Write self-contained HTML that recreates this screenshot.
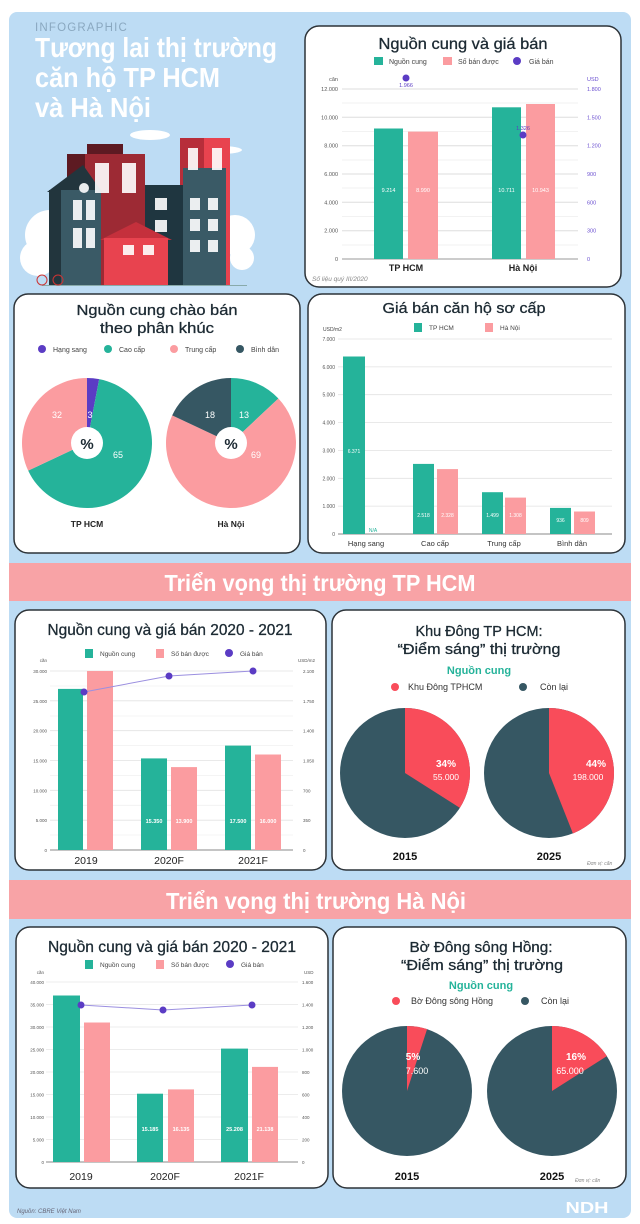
<!DOCTYPE html>
<html><head><meta charset="utf-8"><style>
html,body{margin:0;padding:0;background:#fff;}
svg{display:block;font-family:"Liberation Sans",sans-serif;}
</style></head><body>
<svg width="640" height="1224" viewBox="0 0 640 1224" xmlns="http://www.w3.org/2000/svg">
<rect x="9" y="12" width="622" height="1206" rx="8" fill="#bddcf4"/>

<!-- Header -->
<text x="35" y="31" font-size="11.5" fill="#8aa8c0" letter-spacing="1.2">INFOGRAPHIC</text>
<g fill="#fff" font-size="28" font-weight="bold">
<text x="35" y="57" textLength="242" lengthAdjust="spacingAndGlyphs">Tương lai thị trường</text>
<text x="35" y="87" textLength="185" lengthAdjust="spacingAndGlyphs">căn hộ TP HCM</text>
<text x="35" y="117" textLength="116" lengthAdjust="spacingAndGlyphs">và Hà Nội</text>
</g>
<!-- illustration -->
<g>
<ellipse cx="150" cy="135" rx="20" ry="5" fill="#fff"/>
<ellipse cx="220" cy="150" rx="22" ry="4" fill="#fff"/>
<circle cx="50" cy="235" r="25" fill="#fff"/>
<circle cx="38" cy="258" r="18" fill="#fff"/>
<circle cx="235" cy="235" r="20" fill="#fff"/>
<circle cx="242" cy="258" r="12" fill="#fff"/>
<rect x="87" y="144" width="36" height="12" fill="#5d1a22"/>
<rect x="67" y="154" width="78" height="131" fill="#9d2a34"/>
<rect x="67" y="154" width="18" height="131" fill="#5d1a22"/>
<rect x="180" y="138" width="50" height="147" fill="#e8434f"/>
<rect x="180" y="138" width="24" height="147" fill="#b72e3a"/>
<rect x="145" y="185" width="45" height="100" fill="#1f3640"/>
<rect x="183" y="168" width="43" height="117" fill="#3a5a66"/>
<polygon points="47,192 83,165 102,192" fill="#22353d"/>
<rect x="49" y="190" width="52" height="95" fill="#3a5a66"/>
<rect x="49" y="190" width="12" height="95" fill="#22353d"/>
<polygon points="100,240 136,222 172,240" fill="#c5303c"/>
<rect x="104" y="238" width="64" height="47" fill="#e8434f"/>
<g fill="#fff" opacity="0.9">
<rect x="95" y="163" width="14" height="30"/><rect x="122" y="163" width="14" height="30"/>
<rect x="188" y="148" width="10" height="22"/><rect x="212" y="148" width="10" height="22"/>
<rect x="190" y="198" width="10" height="12"/><rect x="208" y="198" width="10" height="12"/>
<rect x="190" y="219" width="10" height="12"/><rect x="208" y="219" width="10" height="12"/>
<rect x="190" y="240" width="10" height="12"/><rect x="208" y="240" width="10" height="12"/>
<rect x="73" y="200" width="9" height="20"/><rect x="86" y="200" width="9" height="20"/>
<rect x="73" y="228" width="9" height="20"/><rect x="86" y="228" width="9" height="20"/>
<rect x="155" y="198" width="12" height="12"/><rect x="155" y="220" width="12" height="12"/>
<rect x="123" y="245" width="11" height="10"/><rect x="143" y="245" width="11" height="10"/>
<circle cx="84" cy="188" r="5"/>
</g>
<rect x="42" y="285" width="205" height="1" fill="#8aa"/>
<circle cx="42" cy="280" r="5" fill="none" stroke="#c33" stroke-width="1"/>
<circle cx="58" cy="280" r="5" fill="none" stroke="#c33" stroke-width="1"/>
</g>

<!-- Card 1 top right -->
<rect x="305" y="26" width="316" height="261" rx="14" fill="#fff" stroke="#2d3338" stroke-width="1.5"/>
<text x="463" y="49" font-size="16" text-anchor="middle" fill="#1c2a33" stroke="#1c2a33" stroke-width="0.3" textLength="169" lengthAdjust="spacingAndGlyphs">Nguồn cung và giá bán</text>
<g font-size="7" fill="#444">
<rect x="374" y="57" width="9" height="8" fill="#25b39a"/><text x="389" y="64">Nguồn cung</text>
<rect x="443" y="57" width="9" height="8" fill="#fb9ca0"/><text x="458" y="64">Số bán được</text>
<circle cx="517" cy="61" r="4" fill="#5b3cc4"/><text x="529" y="64">Giá bán</text>
</g>
<g stroke="#eee" stroke-width="0.8">
<line x1="342" y1="103" x2="578" y2="103"/><line x1="342" y1="131.5" x2="578" y2="131.5"/><line x1="342" y1="160" x2="578" y2="160"/><line x1="342" y1="188" x2="578" y2="188"/><line x1="342" y1="216.5" x2="578" y2="216.5"/><line x1="342" y1="245" x2="578" y2="245"/>
</g>
<g stroke="#ddd" stroke-width="1">
<line x1="342" y1="89" x2="578" y2="89"/><line x1="342" y1="117.3" x2="578" y2="117.3"/><line x1="342" y1="145.7" x2="578" y2="145.7"/><line x1="342" y1="174" x2="578" y2="174"/><line x1="342" y1="202.3" x2="578" y2="202.3"/><line x1="342" y1="230.7" x2="578" y2="230.7"/>
</g>
<line x1="342" y1="259" x2="578" y2="259" stroke="#999" stroke-width="1"/>
<g font-size="5.5" fill="#555" text-anchor="end">
<text x="338" y="81">căn</text>
<text x="338" y="91">12.000</text><text x="338" y="119.3">10.000</text><text x="338" y="147.7">8.000</text><text x="338" y="176">6.000</text><text x="338" y="204.3">4.000</text><text x="338" y="232.7">2.000</text><text x="338" y="261">0</text>
</g>
<g font-size="5.5" fill="#6a4fd0">
<text x="587" y="81">USD</text>
<text x="587" y="91">1.800</text><text x="587" y="119.3">1.500</text><text x="587" y="147.7">1.200</text><text x="587" y="176">900</text><text x="587" y="204.3">600</text><text x="587" y="232.7">300</text><text x="587" y="261">0</text>
</g>
<rect x="374" y="128.5" width="29" height="130.5" fill="#25b39a"/>
<rect x="408" y="131.6" width="30" height="127.4" fill="#fb9ca0"/>
<rect x="492" y="107.3" width="29" height="151.7" fill="#25b39a"/>
<rect x="526" y="104" width="29" height="155" fill="#fb9ca0"/>
<g font-size="5.5" fill="#fff" text-anchor="middle">
<text x="388.5" y="192">9.214</text><text x="423" y="192">8.990</text><text x="506.5" y="192">10.711</text><text x="540.5" y="192">10.943</text>
</g>
<circle cx="406" cy="78" r="3.5" fill="#5b3cc4"/><text x="406" y="87" font-size="5.5" fill="#5b3cc4" text-anchor="middle">1.966</text>
<circle cx="523" cy="135" r="3.5" fill="#5b3cc4"/><text x="523" y="130" font-size="5.5" fill="#5b3cc4" text-anchor="middle">1.326</text>
<g font-size="9" font-weight="bold" fill="#222" text-anchor="middle">
<text x="406" y="271">TP HCM</text><text x="523" y="271">Hà Nội</text>
</g>
<text x="312" y="281" font-size="6.5" font-style="italic" fill="#888">Số liệu quý III/2020</text>

<!-- Card 2 mid left -->
<rect x="14" y="294" width="286" height="259" rx="14" fill="#fff" stroke="#2d3338" stroke-width="1.5"/>
<g font-size="15" text-anchor="middle" fill="#1c2a33" stroke="#1c2a33" stroke-width="0.3">
<text x="157" y="315" textLength="161" lengthAdjust="spacingAndGlyphs">Nguồn cung chào bán</text>
<text x="157" y="333" textLength="114" lengthAdjust="spacingAndGlyphs">theo phân khúc</text>
</g>
<g font-size="7" fill="#444">
<circle cx="42" cy="349" r="4" fill="#5b3cc4"/><text x="53" y="352">Hạng sang</text>
<circle cx="108" cy="349" r="4" fill="#25b39a"/><text x="119" y="352">Cao cấp</text>
<circle cx="174" cy="349" r="4" fill="#fb9ca0"/><text x="185" y="352">Trung cấp</text>
<circle cx="240" cy="349" r="4" fill="#365763"/><text x="251" y="352">Bình dân</text>
</g>
<path d="M87,443 L87,378 A65,65 0 0 1 99.18,379.15 Z" fill="#5b3cc4"/>
<path d="M87,443 L99.18,379.15 A65,65 0 1 1 28.19,470.68 Z" fill="#25b39a"/>
<path d="M87,443 L28.19,470.68 A65,65 0 0 1 87,378 Z" fill="#fb9ca0"/>
<circle cx="87" cy="443" r="16" fill="#fff"/>
<path d="M231,443 L231,378 A65,65 0 0 1 278.39,398.51 Z" fill="#25b39a"/>
<path d="M231,443 L278.39,398.51 A65,65 0 1 1 172.19,415.32 Z" fill="#fb9ca0"/>
<path d="M231,443 L172.19,415.32 A65,65 0 0 1 231,378 Z" fill="#365763"/>
<circle cx="231" cy="443" r="16" fill="#fff"/>
<g font-size="15" font-weight="bold" fill="#1c2a33" text-anchor="middle">
<text x="87" y="449">%</text><text x="231" y="449">%</text>
</g>
<g font-size="9" fill="#fff" text-anchor="middle">
<text x="90" y="418">3</text><text x="118" y="458">65</text><text x="57" y="418">32</text>
<text x="244" y="418">13</text><text x="256" y="458">69</text><text x="210" y="418">18</text>
</g>
<g font-size="8.5" font-weight="bold" fill="#222" text-anchor="middle">
<text x="87" y="527">TP HCM</text><text x="231" y="527">Hà Nội</text>
</g>

<!-- Card 3 mid right -->
<rect x="308" y="294" width="317" height="259" rx="14" fill="#fff" stroke="#2d3338" stroke-width="1.5"/>
<text x="464" y="313" font-size="15" text-anchor="middle" fill="#1c2a33" stroke="#1c2a33" stroke-width="0.3" textLength="163" lengthAdjust="spacingAndGlyphs">Giá bán căn hộ sơ cấp</text>
<g font-size="6.5" fill="#444">
<rect x="414" y="323" width="8" height="9" fill="#25b39a"/><text x="429" y="330">TP HCM</text>
<rect x="485" y="323" width="8" height="9" fill="#fb9ca0"/><text x="500" y="330">Hà Nội</text>
<text x="323" y="331" font-size="5">USD/m2</text>
</g>
<g stroke="#e2e2e2" stroke-width="0.8">
<line x1="338" y1="339" x2="612" y2="339"/><line x1="338" y1="366.9" x2="612" y2="366.9"/><line x1="338" y1="394.7" x2="612" y2="394.7"/><line x1="338" y1="422.6" x2="612" y2="422.6"/><line x1="338" y1="450.4" x2="612" y2="450.4"/><line x1="338" y1="478.3" x2="612" y2="478.3"/><line x1="338" y1="506.1" x2="612" y2="506.1"/>
</g>
<line x1="338" y1="534" x2="612" y2="534" stroke="#888" stroke-width="1"/>
<g font-size="5" fill="#555" text-anchor="end">
<text x="335" y="341">7.000</text><text x="335" y="368.9">6.000</text><text x="335" y="396.7">5.000</text><text x="335" y="424.6">4.000</text><text x="335" y="452.4">3.000</text><text x="335" y="480.3">2.000</text><text x="335" y="508.1">1.000</text><text x="335" y="536">0</text>
</g>
<rect x="343" y="356.5" width="22" height="177.5" fill="#25b39a"/>
<rect x="413" y="463.9" width="21" height="70.1" fill="#25b39a"/>
<rect x="437" y="469.1" width="21" height="64.9" fill="#fb9ca0"/>
<rect x="482" y="492.2" width="21" height="41.8" fill="#25b39a"/>
<rect x="505" y="497.6" width="21" height="36.4" fill="#fb9ca0"/>
<rect x="550" y="507.9" width="21" height="26.1" fill="#25b39a"/>
<rect x="574" y="511.5" width="21" height="22.5" fill="#fb9ca0"/>
<g font-size="5" fill="#fff" text-anchor="middle">
<text x="354" y="453">6.371</text>
<text x="423.5" y="517">2.518</text><text x="447.5" y="517">2.328</text>
<text x="492.5" y="517">1.499</text><text x="515.5" y="517">1.308</text>
<text x="560.5" y="522">936</text><text x="584.5" y="522">809</text>
</g>
<text x="373" y="532" font-size="5" fill="#25b39a" text-anchor="middle">N/A</text>
<g font-size="7.5" fill="#333" text-anchor="middle">
<text x="366" y="546">Hạng sang</text><text x="435" y="546">Cao cấp</text><text x="504" y="546">Trung cấp</text><text x="572" y="546">Bình dân</text>
</g>

<!-- Band 1 -->
<rect x="9" y="563" width="622" height="38" fill="#f8a3a6"/>
<text x="320" y="591" font-size="23" font-weight="bold" fill="#fff" text-anchor="middle" textLength="311" lengthAdjust="spacingAndGlyphs">Triển vọng thị trường TP HCM</text>

<!-- Card 4 HCM bars -->
<rect x="15" y="610" width="311" height="260" rx="14" fill="#fff" stroke="#2d3338" stroke-width="1.5"/>
<text x="170" y="635" font-size="16" text-anchor="middle" fill="#1c2a33" stroke="#1c2a33" stroke-width="0.3" textLength="245" lengthAdjust="spacingAndGlyphs">Nguồn cung và giá bán 2020 - 2021</text>
<g font-size="6.5" fill="#444">
<rect x="85" y="649" width="8" height="9" fill="#25b39a"/><text x="100" y="656">Nguồn cung</text>
<rect x="156" y="649" width="8" height="9" fill="#fb9ca0"/><text x="171" y="656">Số bán được</text>
<circle cx="229" cy="653" r="4" fill="#5b3cc4"/><text x="240" y="656">Giá bán</text>
</g>
<g stroke="#e2e2e2" stroke-width="0.8">
<line x1="50" y1="671" x2="293" y2="671"/><line x1="50" y1="700.8" x2="293" y2="700.8"/><line x1="50" y1="730.7" x2="293" y2="730.7"/><line x1="50" y1="760.5" x2="293" y2="760.5"/><line x1="50" y1="790.3" x2="293" y2="790.3"/><line x1="50" y1="820.2" x2="293" y2="820.2"/>
<line x1="50" y1="686" x2="293" y2="686" stroke="#f0f0f0"/><line x1="50" y1="716" x2="293" y2="716" stroke="#f0f0f0"/><line x1="50" y1="745.6" x2="293" y2="745.6" stroke="#f0f0f0"/><line x1="50" y1="775.4" x2="293" y2="775.4" stroke="#f0f0f0"/><line x1="50" y1="805.3" x2="293" y2="805.3" stroke="#f0f0f0"/><line x1="50" y1="835" x2="293" y2="835" stroke="#f0f0f0"/>
</g>
<line x1="50" y1="850" x2="293" y2="850" stroke="#888" stroke-width="1"/>
<g font-size="4.5" fill="#555" text-anchor="end">
<text x="47" y="662">căn</text>
<text x="47" y="673">30.000</text><text x="47" y="702.8">25.000</text><text x="47" y="732.7">20.000</text><text x="47" y="762.5">15.000</text><text x="47" y="792.3">10.000</text><text x="47" y="822.2">5.000</text><text x="47" y="852">0</text>
</g>
<g font-size="4.5" fill="#555">
<text x="298" y="662">USD/m2</text>
<text x="303" y="673">2.100</text><text x="303" y="702.8">1.750</text><text x="303" y="732.7">1.400</text><text x="303" y="762.5">1.050</text><text x="303" y="792.3">700</text><text x="303" y="822.2">350</text><text x="303" y="852">0</text>
</g>
<rect x="58" y="688.9" width="25" height="161.1" fill="#25b39a"/>
<rect x="87" y="671" width="26" height="179" fill="#fb9ca0"/>
<rect x="141" y="758.4" width="26" height="91.6" fill="#25b39a"/>
<rect x="171" y="767.1" width="26" height="82.9" fill="#fb9ca0"/>
<rect x="225" y="745.6" width="26" height="104.4" fill="#25b39a"/>
<rect x="255" y="754.5" width="26" height="95.5" fill="#fb9ca0"/>
<g font-size="5.5" font-weight="bold" fill="#fff" text-anchor="middle">
<text x="154" y="823">15.350</text><text x="184" y="823">13.900</text><text x="238" y="823">17.500</text><text x="268" y="823">16.000</text>
</g>
<polyline points="84,692 169,676 253,671" fill="none" stroke="#9b8fe0" stroke-width="1"/>
<circle cx="84" cy="692" r="3.5" fill="#5b3cc4"/><circle cx="169" cy="676" r="3.5" fill="#5b3cc4"/><circle cx="253" cy="671" r="3.5" fill="#5b3cc4"/>
<g font-size="10.5" fill="#222" text-anchor="middle">
<text x="86" y="864">2019</text><text x="169" y="864">2020F</text><text x="253" y="864">2021F</text>
</g>

<!-- Card 5 Khu Dong -->
<rect x="332" y="610" width="293" height="260" rx="14" fill="#fff" stroke="#2d3338" stroke-width="1.5"/>
<g font-size="15" text-anchor="middle" fill="#1c2a33" stroke="#1c2a33" stroke-width="0.3">
<text x="479" y="636" textLength="127" lengthAdjust="spacingAndGlyphs">Khu Đông TP HCM:</text>
<text x="479" y="654" textLength="163" lengthAdjust="spacingAndGlyphs">“Điểm sáng” thị trường</text>
</g>
<text x="479" y="674" font-size="11" font-weight="bold" fill="#25b39a" text-anchor="middle">Nguồn cung</text>
<g font-size="9" fill="#333">
<circle cx="395" cy="687" r="4" fill="#f94c5a"/><text x="408" y="690">Khu Đông TPHCM</text>
<circle cx="523" cy="687" r="4" fill="#365763"/><text x="540" y="690">Còn lại</text>
</g>
<circle cx="405" cy="773" r="65" fill="#365763"/>
<path d="M405,773 L405,708 A65,65 0 0 1 459.88,807.83 Z" fill="#f94c5a"/>
<circle cx="549" cy="773" r="65" fill="#365763"/>
<path d="M549,773 L549,708 A65,65 0 0 1 572.93,833.44 Z" fill="#f94c5a"/>
<g fill="#fff" text-anchor="middle">
<text x="446" y="767" font-size="10" font-weight="bold">34%</text><text x="446" y="780" font-size="8.5">55.000</text>
<text x="596" y="767" font-size="10" font-weight="bold">44%</text><text x="588" y="780" font-size="8.5">198.000</text>
</g>
<g font-size="11" font-weight="bold" fill="#111" text-anchor="middle">
<text x="405" y="860">2015</text><text x="549" y="860">2025</text>
</g>
<text x="587" y="865" font-size="5" font-style="italic" fill="#888">Đơn vị: căn</text>

<!-- Band 2 -->
<rect x="9" y="880" width="622" height="39" fill="#f8a3a6"/>
<text x="316" y="909" font-size="23" font-weight="bold" fill="#fff" text-anchor="middle" textLength="300" lengthAdjust="spacingAndGlyphs">Triển vọng thị trường Hà Nội</text>

<!-- Card 6 HN bars -->
<rect x="16" y="927" width="312" height="261" rx="14" fill="#fff" stroke="#2d3338" stroke-width="1.5"/>
<text x="172" y="952" font-size="16" text-anchor="middle" fill="#1c2a33" stroke="#1c2a33" stroke-width="0.3" textLength="248" lengthAdjust="spacingAndGlyphs">Nguồn cung và giá bán 2020 - 2021</text>
<g font-size="6.5" fill="#444">
<rect x="85" y="960" width="8" height="9" fill="#25b39a"/><text x="100" y="967">Nguồn cung</text>
<rect x="156" y="960" width="8" height="9" fill="#fb9ca0"/><text x="171" y="967">Số bán được</text>
<circle cx="230" cy="964" r="4" fill="#5b3cc4"/><text x="241" y="967">Giá bán</text>
</g>
<g stroke="#e6e6e6" stroke-width="0.8">
<line x1="46" y1="982" x2="298" y2="982"/><line x1="46" y1="1004.5" x2="298" y2="1004.5"/><line x1="46" y1="1027" x2="298" y2="1027"/><line x1="46" y1="1049.5" x2="298" y2="1049.5"/><line x1="46" y1="1072" x2="298" y2="1072"/><line x1="46" y1="1094.5" x2="298" y2="1094.5"/><line x1="46" y1="1117" x2="298" y2="1117"/><line x1="46" y1="1139.5" x2="298" y2="1139.5"/>
</g>
<line x1="46" y1="1162" x2="298" y2="1162" stroke="#888" stroke-width="1"/>
<g font-size="4.5" fill="#555" text-anchor="end">
<text x="44" y="974">căn</text>
<text x="44" y="984">40.000</text><text x="44" y="1006.5">35.000</text><text x="44" y="1029">30.000</text><text x="44" y="1051.5">25.000</text><text x="44" y="1074">20.000</text><text x="44" y="1096.5">15.000</text><text x="44" y="1119">10.000</text><text x="44" y="1141.5">5.000</text><text x="44" y="1164">0</text>
</g>
<g font-size="4.5" fill="#555">
<text x="304" y="974">USD</text>
<text x="302" y="984">1.600</text><text x="302" y="1006.5">1.400</text><text x="302" y="1029">1.200</text><text x="302" y="1051.5">1.000</text><text x="302" y="1074">800</text><text x="302" y="1096.5">600</text><text x="302" y="1119">400</text><text x="302" y="1141.5">200</text><text x="302" y="1164">0</text>
</g>
<rect x="53" y="995.5" width="27" height="166.5" fill="#25b39a"/>
<rect x="84" y="1022.5" width="26" height="139.5" fill="#fb9ca0"/>
<rect x="137" y="1093.7" width="26" height="68.3" fill="#25b39a"/>
<rect x="168" y="1089.4" width="26" height="72.6" fill="#fb9ca0"/>
<rect x="221" y="1048.6" width="27" height="113.4" fill="#25b39a"/>
<rect x="252" y="1066.9" width="26" height="95.1" fill="#fb9ca0"/>
<g font-size="5.5" font-weight="bold" fill="#fff" text-anchor="middle">
<text x="150" y="1131">15.185</text><text x="181" y="1131">16.135</text><text x="234.5" y="1131">25.208</text><text x="265" y="1131">21.138</text>
</g>
<polyline points="81,1005 163,1010 252,1005" fill="none" stroke="#9b8fe0" stroke-width="1"/>
<circle cx="81" cy="1005" r="3.5" fill="#5b3cc4"/><circle cx="163" cy="1010" r="3.5" fill="#5b3cc4"/><circle cx="252" cy="1005" r="3.5" fill="#5b3cc4"/>
<g font-size="10.5" fill="#222" text-anchor="middle">
<text x="81" y="1180">2019</text><text x="165" y="1180">2020F</text><text x="249" y="1180">2021F</text>
</g>

<!-- Card 7 Bo Dong -->
<rect x="333" y="927" width="293" height="261" rx="14" fill="#fff" stroke="#2d3338" stroke-width="1.5"/>
<g font-size="15" text-anchor="middle" fill="#1c2a33" stroke="#1c2a33" stroke-width="0.3">
<text x="481" y="952" textLength="143" lengthAdjust="spacingAndGlyphs">Bờ Đông sông Hồng:</text>
<text x="482" y="970" textLength="162" lengthAdjust="spacingAndGlyphs">“Điểm sáng” thị trường</text>
</g>
<text x="481" y="989" font-size="11" font-weight="bold" fill="#25b39a" text-anchor="middle">Nguồn cung</text>
<g font-size="9" fill="#333">
<circle cx="396" cy="1001" r="4" fill="#f94c5a"/><text x="411" y="1004">Bờ Đông sông Hồng</text>
<circle cx="525" cy="1001" r="4" fill="#365763"/><text x="541" y="1004">Còn lại</text>
</g>
<circle cx="407" cy="1091" r="65" fill="#365763"/>
<path d="M407,1091 L407,1026 A65,65 0 0 1 427.09,1029.18 Z" fill="#f94c5a"/>
<circle cx="552" cy="1091" r="65" fill="#365763"/>
<path d="M552,1091 L552,1026 A65,65 0 0 1 606.88,1056.17 Z" fill="#f94c5a"/>
<g fill="#fff" text-anchor="middle">
<text x="413" y="1060" font-size="10" font-weight="bold">5%</text><text x="417" y="1074" font-size="9">7.600</text>
<text x="576" y="1060" font-size="10" font-weight="bold">16%</text><text x="570" y="1074" font-size="9">65.000</text>
</g>
<g font-size="11" font-weight="bold" fill="#111" text-anchor="middle">
<text x="407" y="1180">2015</text><text x="552" y="1180">2025</text>
</g>
<text x="575" y="1182" font-size="5" font-style="italic" fill="#888">Đơn vị: căn</text>

<!-- Footer -->
<text x="17" y="1213" font-size="6" font-style="italic" fill="#667">Nguồn: CBRE Việt Nam</text>
<text x="587" y="1213" font-size="16" font-weight="bold" fill="#fff" text-anchor="middle" textLength="43" lengthAdjust="spacingAndGlyphs">NDH</text>
</svg>
</body></html>
